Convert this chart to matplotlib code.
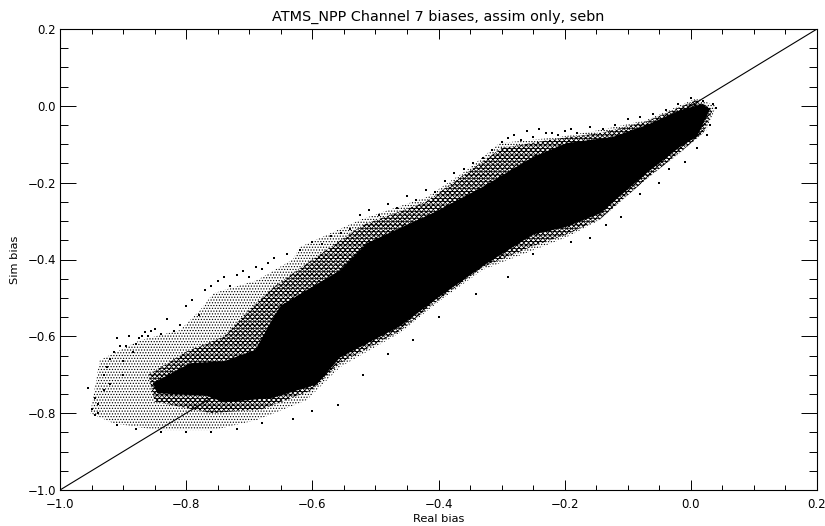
import matplotlib
matplotlib.use("Agg")
import matplotlib.pyplot as plt

TITLE = "ATMS_NPP Channel 7 biases, assim only, sebn"
ticks = [-1.0, -0.8, -0.6, -0.4, -0.2, 0.0, 0.2]
tick_labels = ["\u22121.0", "\u22120.8", "\u22120.6", "\u22120.4", "\u22120.2", "0.0", "0.2"]
minor = [-0.95, -0.9, -0.85, -0.75, -0.7, -0.65, -0.55, -0.5, -0.45, -0.35, -0.3, -0.25, -0.15, -0.1, -0.05, 0.05, 0.1, 0.15]

# solid core of the cloud, outline
core_x = [-0.853, -0.794, -0.74, -0.69, -0.665, -0.65, -0.556, -0.513, -0.409, -0.330, -0.250, -0.197, -0.124, -0.070, -0.017, 0.019, 0.030,
          0.010, -0.017, -0.070, -0.144, -0.197, -0.250, -0.323, -0.398, -0.461, -0.556, -0.593, -0.662, -0.74, -0.767, -0.846]
core_y = [-0.722, -0.670, -0.665, -0.635, -0.56, -0.52, -0.428, -0.357, -0.279, -0.211, -0.133, -0.097, -0.081, -0.050, -0.011, 0.005, -0.010,
          -0.08, -0.107, -0.175, -0.28, -0.315, -0.335, -0.410, -0.496, -0.574, -0.655, -0.725, -0.760, -0.772, -0.755, -0.748]

# fairly dense speckle around the core
mid_x = [-0.86, -0.80, -0.74, -0.70, -0.66, -0.60, -0.52, -0.42, -0.36, -0.30, -0.21, -0.14, -0.07, 0.009,
         0.035, 0.02, -0.02, -0.07, -0.144, -0.197, -0.25, -0.33, -0.40, -0.46, -0.556, -0.60, -0.68, -0.76, -0.85]
mid_y = [-0.70, -0.64, -0.60, -0.53, -0.47, -0.40, -0.31, -0.25, -0.18, -0.11, -0.085, -0.07, -0.04, 0.015,
         -0.01, -0.07, -0.125, -0.19, -0.295, -0.335, -0.365, -0.42, -0.505, -0.585, -0.67, -0.74, -0.79, -0.80, -0.77]

# thin speckle at the edge of the cloud
margin_x = [-0.937, -0.873, -0.81, -0.778, -0.757, -0.688, -0.631, -0.62, -0.525, -0.418, -0.355, -0.303, -0.208, -0.144, -0.07, 0.009,
            0.04, 0.025, -0.017, -0.07, -0.144, -0.197, -0.25, -0.33, -0.40, -0.46, -0.556, -0.609, -0.688, -0.757, -0.846, -0.916, -0.952]
margin_y = [-0.662, -0.61, -0.584, -0.532, -0.488, -0.454, -0.40, -0.368, -0.297, -0.237, -0.167, -0.097, -0.081, -0.063, -0.037, 0.02,
            -0.0, -0.063, -0.123, -0.188, -0.297, -0.342, -0.376, -0.427, -0.51, -0.59, -0.68, -0.766, -0.818, -0.844, -0.844, -0.826, -0.80]

# individual outlying dots
dots_x = [-0.955, -0.95, -0.945, -0.94, -0.93, -0.925, -0.92, -0.915, -0.91, -0.905, -0.90, -0.895, -0.89, -0.885, -0.88,
          -0.875, -0.87, -0.865, -0.86, -0.855, -0.85, -0.84, -0.83, -0.82, -0.81, -0.80, -0.79, -0.78, -0.77, -0.76,
          -0.75, -0.74, -0.73, -0.72, -0.71, -0.70, -0.69, -0.68, -0.67, -0.66, -0.64, -0.62, -0.60, -0.585, -0.57,
          -0.555, -0.54, -0.525, -0.51, -0.495, -0.48, -0.465, -0.45, -0.435, -0.42, -0.405, -0.39, -0.375, -0.36, -0.345,
          -0.33, -0.315, -0.30, -0.29, -0.28, -0.27, -0.26, -0.25, -0.24, -0.23, -0.22, -0.21, -0.20, -0.19, -0.18,
          -0.16, -0.14, -0.12, -0.10, -0.08, -0.06, -0.04, -0.02, 0.0, 0.02, 0.035, 0.04, 0.03, 0.025, 0.01,
          -0.01, -0.035, -0.05, -0.08, -0.11, -0.135, -0.16, -0.19, -0.25, -0.29, -0.34, -0.40, -0.44, -0.48, -0.52,
          -0.56, -0.60, -0.63, -0.68, -0.72, -0.76, -0.80, -0.84, -0.88, -0.91, -0.945, -0.94, -0.93, -0.92, -0.90]
dots_y = [-0.735, -0.79, -0.76, -0.80, -0.70, -0.68, -0.66, -0.64, -0.605, -0.625, -0.665, -0.625, -0.60, -0.64, -0.62,
          -0.605, -0.60, -0.59, -0.60, -0.585, -0.58, -0.595, -0.555, -0.585, -0.57, -0.52, -0.505, -0.545, -0.48, -0.47,
          -0.455, -0.445, -0.47, -0.44, -0.43, -0.445, -0.42, -0.425, -0.41, -0.395, -0.385, -0.375, -0.355, -0.36, -0.34,
          -0.33, -0.32, -0.285, -0.27, -0.285, -0.255, -0.265, -0.235, -0.245, -0.22, -0.225, -0.195, -0.175, -0.165, -0.15,
          -0.135, -0.115, -0.095, -0.085, -0.075, -0.09, -0.065, -0.08, -0.06, -0.07, -0.07, -0.075, -0.065, -0.06, -0.07,
          -0.055, -0.06, -0.05, -0.035, -0.03, -0.02, -0.01, 0.005, 0.02, 0.012, 0.005, -0.005, -0.05, -0.075, -0.11,
          -0.145, -0.165, -0.20, -0.23, -0.29, -0.31, -0.345, -0.355, -0.385, -0.445, -0.49, -0.55, -0.61, -0.645, -0.70,
          -0.78, -0.795, -0.815, -0.825, -0.84, -0.85, -0.85, -0.85, -0.84, -0.83, -0.805, -0.775, -0.74, -0.725, -0.70]

diag = [-1.0, 0.2]

plt.rcParams["hatch.linewidth"] = 0.55
fig = plt.figure(figsize=(8.25, 5.26), dpi=100)
ax = fig.add_axes([60 / 825, 1 - 490 / 526, 757 / 825, 461 / 526])
ax.set_xlim(-1.0, 0.2)
ax.set_ylim(-1.0, 0.2)

ax.fill(margin_x, margin_y, facecolor="white", edgecolor="black", hatch="......", linewidth=0)
ax.fill(mid_x, mid_y, facecolor="white", edgecolor="black", hatch="xxxxxxx-----", linewidth=0)
ax.fill(core_x, core_y, color="black", linewidth=0)
ax.scatter(dots_x, dots_y, s=1.2, color="black", marker="s", linewidths=0)
ax.plot(diag, diag, color="black", lw=0.8)

ax.set_xticks(ticks, tick_labels)
ax.set_yticks(ticks, tick_labels)
ax.set_xticks(minor, minor=True)
ax.set_yticks(minor, minor=True)
ax.tick_params(axis="x", which="major", direction="in", top=True, length=7.2, width=0.7, labelsize=8.5, pad=6)
ax.tick_params(axis="x", which="minor", direction="in", top=True, length=3.6, width=0.7)
ax.tick_params(axis="y", which="major", direction="in", right=True, length=11.5, width=0.7, labelsize=8.5, pad=3)
ax.tick_params(axis="y", which="minor", direction="in", right=True, length=5.8, width=0.7)
for s in ax.spines.values():
    s.set_linewidth(0.8)

fig.text(438 / 825, 1 - 17 / 526, TITLE, ha="center", va="center", fontsize=10.4)
fig.text(439 / 825, 1 - 519 / 526, "Real bias", ha="center", va="center", fontsize=8.2)
fig.text(15 / 825, 1 - 260 / 526, "Sim bias", ha="center", va="center", rotation=90, fontsize=8.2)

fig.savefig("out.png", dpi=100)
